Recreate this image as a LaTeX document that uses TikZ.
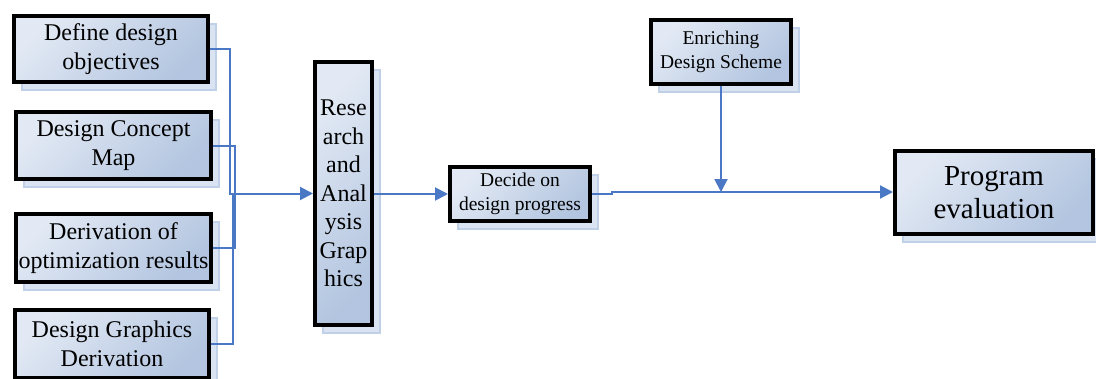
\documentclass[tikz,border=0pt]{standalone}
\usepackage{fontspec}
\setmainfont{Liberation Serif}
\newfontfamily\boxfont{Liberation Serif}
\usetikzlibrary{arrows.meta,shadows}
\definecolor{boxlight}{HTML}{E2E9F4}
\definecolor{boxdark}{HTML}{B3C5E0}
\definecolor{shadowfill}{HTML}{D9E3F2}
\definecolor{shadowedge}{HTML}{C0D0E9}
\definecolor{linkblue}{HTML}{4A78C4}
\tikzset{
  box/.style={draw=black, line width=4pt, top color=boxlight, bottom color=boxdark, shading angle=45,
    align=center, inner sep=0pt,
    general shadow={shadow xshift=8pt, shadow yshift=-8pt, fill=shadowfill, draw=shadowedge, line width=1.5pt}},
  conn/.style={draw=linkblue, line width=2pt},
  arr/.style={conn, -{Triangle[length=13pt,width=13pt]}},
  fbig/.style={font=\boxfont\fontsize{24}{28.5}\selectfont},
  fmid/.style={font=\boxfont\fontsize{19.5}{23.5}\selectfont},
  fhuge/.style={font=\boxfont\fontsize{29}{33}\selectfont},
}
\begin{document}
\begin{tikzpicture}[x=1pt,y=-1pt]
\useasboundingbox (0,0) rectangle (1096,378);
\node[box,fbig,minimum width=194pt,minimum height=66pt] (b1) at (111,49) {Define design\\objectives};
\node[box,fbig,minimum width=195pt,minimum height=67pt] (b2) at (113.5,145.5) {Design Concept\\Map};
\node[box,fbig,minimum width=195pt,minimum height=68pt] (b3) at (113.5,248) {Derivation of\\optimization results};
\node[box,fbig,minimum width=194pt,minimum height=68pt] (b4) at (112,344) {Design Graphics\\Derivation};
\node[box,fbig,minimum width=57pt,minimum height=263pt] (res) at (343.5,193.5) {Rese\\arch\\and\\Anal\\ysis\\Grap\\hics};
\node[box,fmid,minimum width=140pt,minimum height=54pt] (dec) at (520,194) {Decide on\\design progress};
\node[box,fmid,minimum width=140pt,minimum height=64pt] (enr) at (721,52) {Enriching\\Design Scheme};
\node[box,fhuge,minimum width=198pt,minimum height=83pt] (prog) at (994,192.5) {Program\\evaluation};

\coordinate (bus) at (230,193.5);
\coordinate (bus2) at (235,193.5);
\coordinate (bus4) at (233,193.5);
\coordinate (jog) at (612,192);

\draw[conn] (b2.east) -| (bus2);
\draw[conn] (b3.east) -| (bus2);
\draw[conn] (b4.east) -| (bus4);
\draw[arr] (b1.east) -| (bus) -- (res.west);
\draw[arr] (dec.west -| res.east) -- (dec.west);
\draw[arr] (dec.east) -| (jog) -- (prog.west |- jog);
\draw[arr] (enr.south) -- (enr.south |- jog);
\end{tikzpicture}
\end{document}
